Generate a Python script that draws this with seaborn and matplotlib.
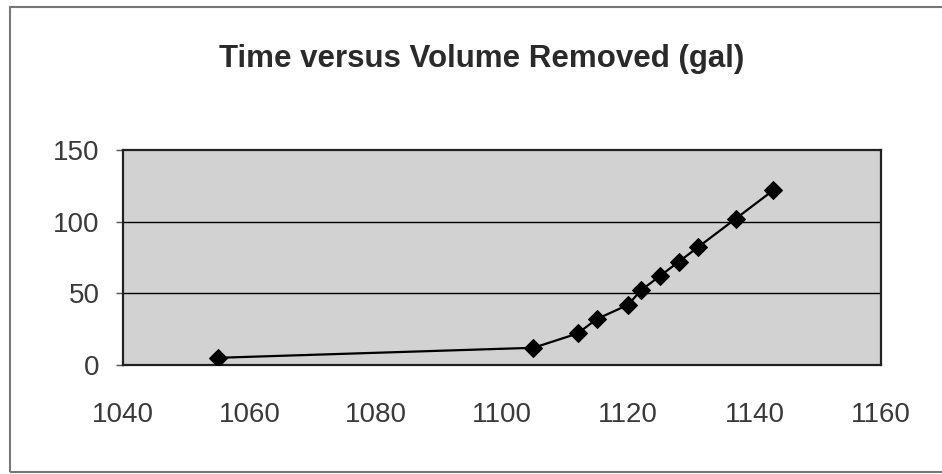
import numpy as np
import pandas as pd
import seaborn as sns
import matplotlib.pyplot as plt
from matplotlib.patches import Rectangle

# values
tiempo = [1055, 1105, 1112, 1115, 1120, 1122, 1125, 1128, 1131, 1137, 1143]
volumen = [5, 12, 22, 32, 42, 52, 62, 72, 82, 102, 122]
ticks_x = [1040, 1060, 1080, 1100, 1120, 1140, 1160]
ticks_y = [0, 50, 100, 150]
titulo = "Time versus Volume Removed (gal)"

sns.set_style("white")
plt.rcParams['font.family'] = ['Liberation Sans', 'DejaVu Sans']

df = pd.DataFrame({"tiempo": tiempo, "volumen": volumen})

fig = plt.figure(figsize=(9.42, 4.74), dpi=100)
ax = fig.add_axes([0.1306, 0.230, 0.8044, 0.4535])
ax.set_facecolor("#d2d2d2")

sns.lineplot(data=df, x="tiempo", y="volumen", ax=ax, color="black", linewidth=1.6,
             marker="D", markersize=9, markeredgecolor="black", zorder=3)

ax.set_xlim(1040, 1160)
ax.set_ylim(0, 150)
ax.set_xticks(ticks_x)
ax.set_yticks(ticks_y)
ax.set_xlabel("")
ax.set_ylabel("")
for v in ticks_y[1:-1]:
    ax.axhline(v, color="black", linewidth=1.0, zorder=1)

for s in ax.spines.values():
    s.set_color("#222222")
    s.set_linewidth(1.6)

ax.tick_params(axis="y", length=5, width=1, color="#555555", pad=12, labelsize=20, labelcolor="#3a3a3a", left=True)
ax.tick_params(axis="x", length=0, pad=27, labelsize=20, labelcolor="#3a3a3a")

fig.text(0.511, 0.875, titulo, ha="center", va="center", fontsize=22.5, fontweight="bold", color="#2a2a2a")

# borde del cuadro del grafico
fig.patches.append(Rectangle((10 / 942, 2 / 474), 940 / 942, 465 / 474, transform=fig.transFigure,
                             fill=False, edgecolor="#777777", linewidth=1.5))

fig.savefig("out.png", dpi=100)
